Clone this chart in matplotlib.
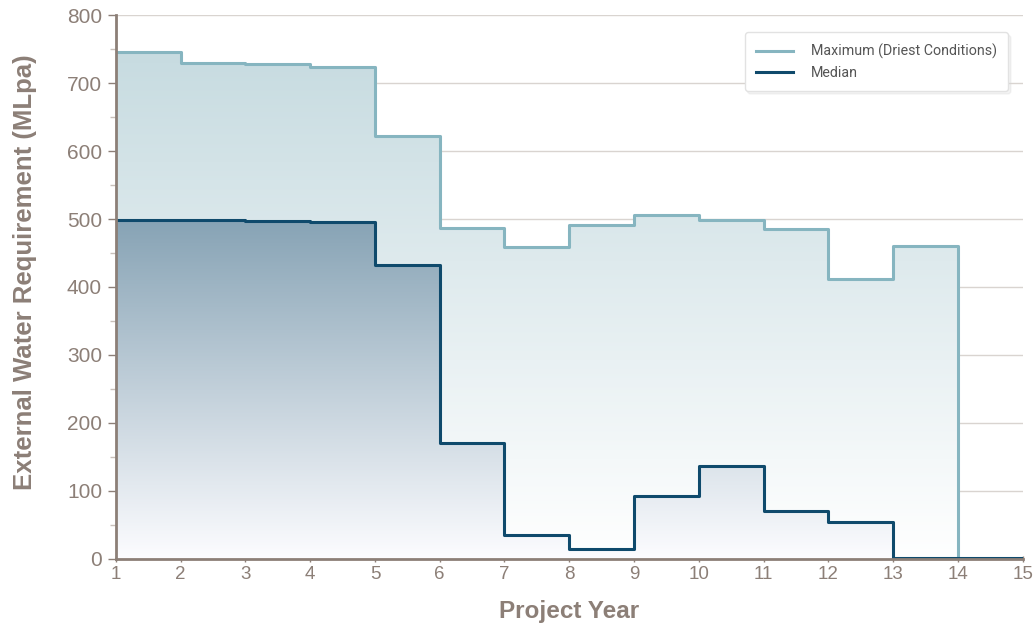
import numpy as np
import matplotlib.pyplot as plt
from matplotlib.patches import Polygon

years = np.arange(1, 16)
# value held from year i until year i+1 (step "post")
maximum = [745, 729, 728, 723, 622, 487, 459, 491, 506, 499, 485, 412, 460, 0, 0]
median = [498, 498, 497, 496, 433, 170, 35, 14, 93, 137, 70, 54, 2, 2, 2]

axis_col = '#8c7f77'
max_col = '#86b5c0'
med_col = '#0f4a6c'

plt.rcParams['font.family'] = ['Liberation Sans', 'DejaVu Sans']

fig = plt.figure(figsize=(10.35, 6.28), dpi=100)
ax = fig.add_axes([0.112, 0.110, 0.876, 0.866])


def gradient_fill(x, y, top_rgb, bottom_rgb, ymax, z):
    xs = np.repeat(x, 2)[1:]
    ys = np.repeat(y, 2)[:-1]
    verts = np.column_stack([np.r_[xs[0], xs, xs[-1]], np.r_[0, ys, 0]])
    poly = Polygon(verts, closed=True, facecolor='none', edgecolor='none')
    ax.add_patch(poly)
    t = np.linspace(0, 1, 256)[:, None]  # 0 at bottom, 1 at top
    top = np.array(top_rgb)
    bot = np.array(bottom_rgb)
    img = bot + (top - bot) * t
    img = np.repeat(img[:, None, :], 2, axis=1)
    im = ax.imshow(img, extent=[x[0], x[-1], 0, ymax], origin='lower',
                   aspect='auto', zorder=z, interpolation='bicubic')
    im.set_clip_path(poly)


gradient_fill(years, maximum, (0.78, 0.86, 0.88), (1.0, 1.0, 1.0), 745, 1)
gradient_fill(years, median, (0.53, 0.64, 0.71), (0.99, 0.99, 1.0), 498, 2)

ax.step(years, maximum, where='post', color=max_col, lw=2.2, zorder=3,
        label='Maximum (Driest Conditions)')
ax.step(years, median, where='post', color=med_col, lw=2.2, zorder=4,
        label='Median')

ax.set_xlim(1, 15)
ax.set_ylim(0, 800)
ax.set_xticks(years)
ax.set_yticks(np.arange(0, 801, 100))
ax.set_yticks(np.arange(50, 800, 100), minor=True)
ax.grid(axis='y', color='#d9d4d0', lw=1.0, zorder=0)
ax.set_axisbelow(True)

for s in ['top', 'right']:
    ax.spines[s].set_visible(False)
for s in ['left', 'bottom']:
    ax.spines[s].set_color(axis_col)
    ax.spines[s].set_linewidth(2)
    ax.spines[s].set_zorder(5)

ax.tick_params(axis='y', which='major', colors=axis_col, length=6, width=1,
               labelsize=15, pad=4)
ax.tick_params(axis='y', which='minor', colors='#c8c0ba', length=4, width=1)
ax.tick_params(axis='x', colors=axis_col, length=4, width=1, labelsize=13.5,
               direction='inout', pad=3)

ax.set_xlabel('Project Year', fontsize=17.5, fontweight='bold', color=axis_col)
ax.set_ylabel('External Water Requirement (MLpa)', fontsize=18.5,
              fontweight='bold', color=axis_col)
ax.xaxis.set_label_coords(0.5, -0.075)
ax.yaxis.set_label_coords(-0.087, 0.527)

leg = ax.legend(loc='upper right', bbox_to_anchor=(0.984, 0.968),
                frameon=True, fancybox=True,
                shadow={'color': '#d8d8d8', 'alpha': 0.3},
                handlelength=2.6, handletextpad=1.2, borderpad=0.8,
                labelspacing=0.45, borderaxespad=0,
                prop={'family': 'Roboto', 'size': 10.3})
leg.get_frame().set_edgecolor('#e2e2e2')
leg.get_frame().set_linewidth(1)
leg.get_frame().set_alpha(1)
for t in leg.get_texts():
    t.set_color('#555555')
leg.set_zorder(10)

fig.savefig('out.png', dpi=100)
